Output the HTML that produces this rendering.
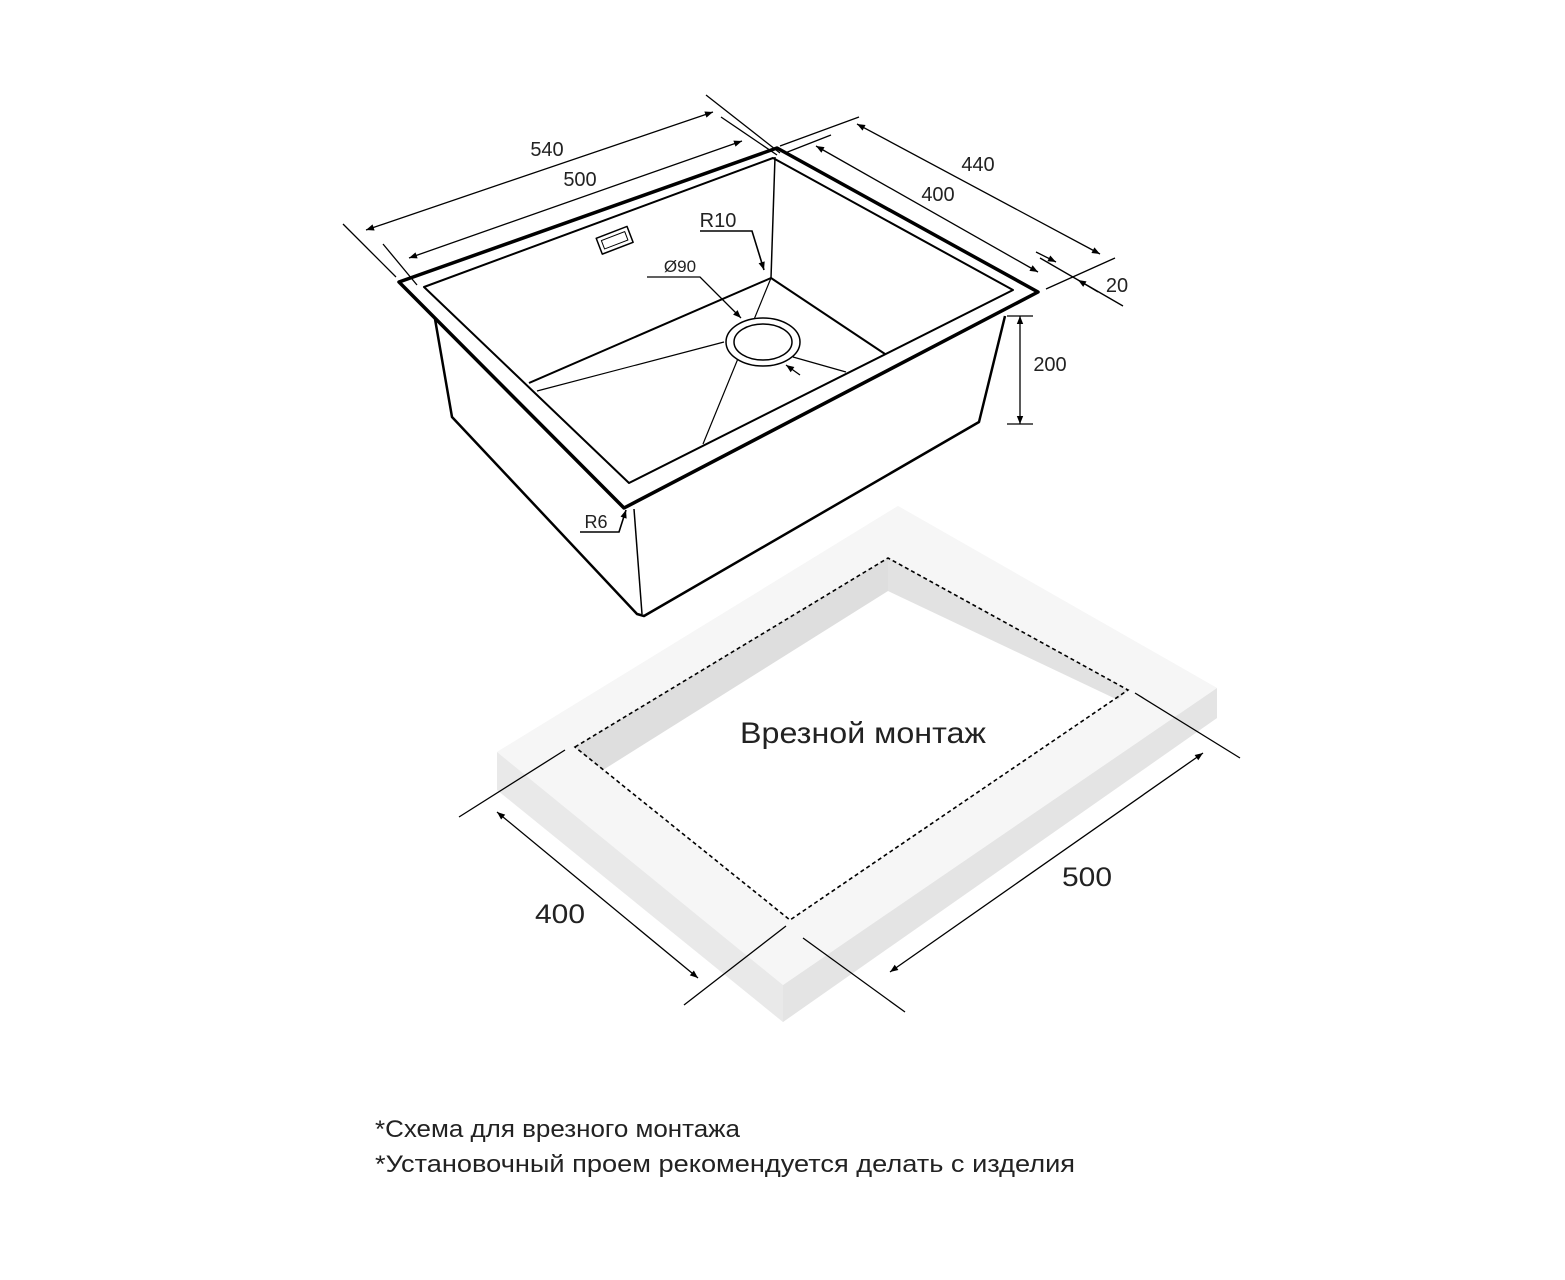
<!DOCTYPE html>
<html><head><meta charset="utf-8"><style>html,body{margin:0;padding:0;background:#fff}svg{display:block}</style></head>
<body>
<svg width="1565" height="1280" viewBox="0 0 1565 1280" xmlns="http://www.w3.org/2000/svg" font-family="Liberation Sans, sans-serif">
<defs>
<marker id="a" viewBox="0 0 10 10" refX="10" refY="5" markerWidth="12" markerHeight="8" orient="auto-start-reverse" markerUnits="userSpaceOnUse"><path d="M0,1 L10,5 L0,9 z" fill="#000"/></marker>
</defs>
<!-- Countertop -->
<polygon points="497,752 898,506 1217,688 1217,718 783,1022 497,790" fill="#f3f3f3"/>
<polygon points="497,752 783,985 783,1022 497,790" fill="#e9e9e9"/>
<polygon points="783,985 1217,688 1217,718 783,1022" fill="#e4e4e4"/>
<polygon points="497,752 898,506 1217,688 783,985" fill="#f6f6f6"/>
<polygon points="575,747 888,558 1128,690 790,920" fill="#fff"/>
<polygon points="575,747 888,558 888,591 603,770" fill="#dedede"/>
<polygon points="888,558 1128,690 1118,700 888,591" fill="#e2e2e2"/>
<polygon points="575,747 888,558 1128,690 790,920" fill="none" stroke="#000" stroke-width="1.6" stroke-dasharray="4,3"/>
<text x="863" y="743" font-size="30" text-anchor="middle" fill="#222" textLength="246" lengthAdjust="spacingAndGlyphs">Врезной монтаж</text>
<g stroke="#000" stroke-width="1.3" fill="none">
<line x1="459" y1="817" x2="565" y2="750"/>
<line x1="684" y1="1005" x2="786" y2="926"/>
<line x1="497" y1="812" x2="698" y2="978" marker-start="url(#a)" marker-end="url(#a)"/>
<line x1="1135" y1="693" x2="1240" y2="758"/>
<line x1="803" y1="938" x2="905" y2="1012"/>
<line x1="890" y1="972" x2="1203" y2="753" marker-start="url(#a)" marker-end="url(#a)"/>
</g>
<text x="560" y="923" font-size="27" text-anchor="middle" fill="#222" textLength="50" lengthAdjust="spacingAndGlyphs">400</text>
<text x="1087" y="886" font-size="27" text-anchor="middle" fill="#222" textLength="50" lengthAdjust="spacingAndGlyphs">500</text>

<!-- Sink body -->
<g stroke="#000" fill="none" stroke-linejoin="round">
<polyline points="435,319 452,417 637,614 644,616 979,422 1005,316" stroke-width="2.5"/>
<line x1="634" y1="509" x2="642" y2="614" stroke-width="1.5"/>
<polygon points="399,282 777,148 1038,292 624,508" stroke-width="3.5"/>
<polygon points="424,287 773,158 1013,290 629,483" stroke-width="2"/>
<line x1="775" y1="157" x2="771" y2="278" stroke-width="1.5"/>
<polyline points="529,383 771,278 885,354" stroke-width="2"/>
<line x1="771" y1="278" x2="703" y2="444" stroke-width="1.2"/>
<line x1="537" y1="391" x2="724" y2="342" stroke-width="1.2"/>
<line x1="793" y1="357" x2="846" y2="372" stroke-width="1.2"/>
<ellipse cx="763" cy="342" rx="37" ry="24" fill="#fff" stroke-width="1.5"/>
<ellipse cx="763" cy="342" rx="29" ry="18" stroke-width="1.5"/>
<rect x="598" y="232" width="33" height="17" transform="rotate(-21 614 240)" stroke-width="1.5"/>
<rect x="602" y="236" width="25" height="9" transform="rotate(-21 614 240)" stroke-width="1"/>
</g>
<!-- Sink dimensions -->
<g stroke="#000" stroke-width="1.3" fill="none">
<line x1="343" y1="224" x2="396" y2="277"/>
<line x1="706" y1="95" x2="780" y2="153"/>
<line x1="366" y1="230" x2="713" y2="112" marker-start="url(#a)" marker-end="url(#a)"/>
<line x1="383" y1="244" x2="417" y2="285"/>
<line x1="721" y1="117" x2="777" y2="155"/>
<line x1="409" y1="258" x2="742" y2="141" marker-start="url(#a)" marker-end="url(#a)"/>
<line x1="780" y1="146" x2="859" y2="117"/>
<line x1="785" y1="153" x2="831" y2="135"/>
<line x1="857" y1="124" x2="1100" y2="254" marker-start="url(#a)" marker-end="url(#a)"/>
<line x1="816" y1="146" x2="1038" y2="272" marker-start="url(#a)" marker-end="url(#a)"/>
<line x1="1046" y1="289" x2="1115" y2="258"/>
<line x1="1040" y1="258" x2="1123" y2="306"/>
<line x1="1036" y1="252" x2="1056" y2="262" marker-end="url(#a)"/>
<line x1="1098" y1="292" x2="1078" y2="280" marker-end="url(#a)"/>
<line x1="1007" y1="316" x2="1033" y2="316"/>
<line x1="1007" y1="424" x2="1033" y2="424"/>
<line x1="1020" y1="316" x2="1020" y2="424" marker-start="url(#a)" marker-end="url(#a)"/>
<polyline points="700,231 752,231 764,270" marker-end="url(#a)" stroke-width="1.6"/>
<polyline points="647,277 700,277 741,318" marker-end="url(#a)"/>
<line x1="800" y1="375" x2="786" y2="365" marker-end="url(#a)"/>
<polyline points="580,532 619,532 626,510" marker-end="url(#a)" stroke-width="1.6"/>
</g>
<g font-size="20" fill="#222" text-anchor="middle">
<text x="547" y="156">540</text>
<text x="580" y="186">500</text>
<text x="978" y="171">440</text>
<text x="938" y="201">400</text>
<text x="1117" y="292">20</text>
<text x="1050" y="371">200</text>
<text x="718" y="227">R10</text>
<text x="680" y="272" font-size="17">Ø90</text>
<text x="596" y="528" font-size="18">R6</text>
</g>
<g font-size="24" fill="#222">
<text x="375" y="1137" textLength="365" lengthAdjust="spacingAndGlyphs">*Схема для врезного монтажа</text>
<text x="375" y="1172" textLength="700" lengthAdjust="spacingAndGlyphs">*Установочный проем рекомендуется делать с изделия</text>
</g>
</svg>
</body></html>
